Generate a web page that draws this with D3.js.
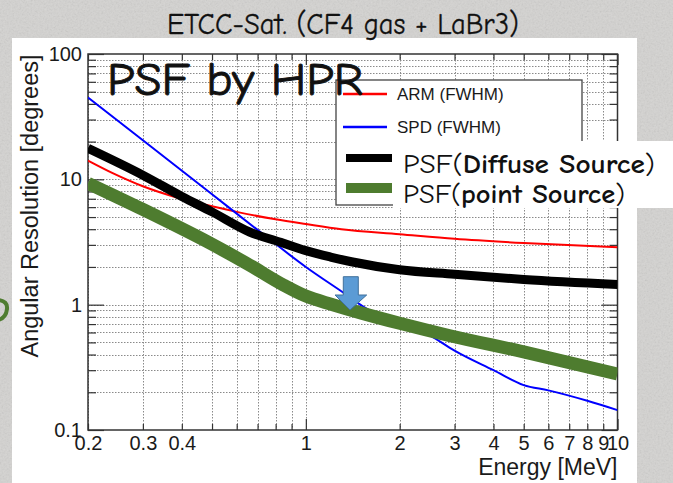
<!DOCTYPE html>
<html><head><meta charset="utf-8">
<script src="https://cdn.jsdelivr.net/npm/d3@7"></script>
<style>
html,body{margin:0;padding:0;background:#d4d3d1;}
svg{display:block;}
.num{font-family:"Liberation Sans",Arial,Helvetica,sans-serif;fill:#1a1a1a;}
.comic{font-family:"Comic Sans MS","Comic Neue","DejaVu Sans",sans-serif;fill:#111;}
</style></head>
<body>
<script>
// ---- data ----
const armEnergy = [0.2, 0.24, 0.3, 0.39, 0.5, 0.6, 0.8, 1.0, 1.3, 2, 3, 5, 10];
const armValues = [14.1, 11.2, 8.8, 7.1, 6.1, 5.5, 4.8, 4.4, 4.0, 3.65, 3.35, 3.1, 2.87];

const spdEnergy = [0.2, 0.3, 0.5, 0.7, 1.0, 1.3, 1.6, 2.0, 2.5, 3.0, 4.0, 5.0, 6.0, 8.0, 10];
const spdValues = [45, 20.5, 7.6, 3.95, 2.0, 1.28, 0.9, 0.73, 0.57, 0.43, 0.30, 0.228, 0.207, 0.171, 0.144];

const diffuseEnergy = [0.2, 0.3, 0.4, 0.5, 0.66, 0.83, 1.0, 1.2, 1.4, 2.0, 3.0, 5.0, 10];
const diffuseValues = [17.7, 10.8, 7.3, 5.5, 3.8, 3.15, 2.7, 2.4, 2.2, 1.9, 1.75, 1.59, 1.45];

const pointEnergy = [0.2, 0.3, 0.48, 0.66, 0.85, 1.0, 1.22, 1.5, 2.0, 2.9, 5.0, 10];
const pointValues = [9.3, 5.75, 3.2, 2.07, 1.43, 1.17, 1.0, 0.86, 0.71, 0.565, 0.42, 0.28];

const xMajorTicks = [1, 10];
const xMinorTicks = [0.2, 0.3, 0.4, 0.5, 0.6, 0.7, 0.8, 0.9, 2, 3, 4, 5, 6, 7, 8, 9];
const xTickLabels = ["0.2", "0.3", "0.4", "1", "2", "3", "4", "5", "6", "7", "8", "9", "10"];
const yMajorTicks = [0.1, 1, 10, 100];
const yTickLabels = ["0.1", "1", "10", "100"];

const titleText = "ETCC-Sat.  (CF4 gas + LaBr3)";
const overlayText = "PSF by HPR";
const xTitle = "Energy [MeV]";
const yTitle = "Angular Resolution [degrees]";
const legendSmall = [
  {label: "ARM (FWHM)", color: "#ff0000"},
  {label: "SPD (FWHM)", color: "#0000ff"}
];
const legendBig = [
  {pre: "PSF(", bold: "Diffuse Source", post: ")", color: "#000000", len: 252},
  {pre: "PSF(", bold: "point Source", post: ")", color: "#4e7c2f", len: 222}
];

// ---- drawing ----
const W = 673, H = 483;
const svg = d3.select("body").append("svg").attr("width", W).attr("height", H);

const defs = svg.append("defs");
const f = defs.append("filter").attr("id", "noise").attr("x", 0).attr("y", 0).attr("width", "100%").attr("height", "100%");
f.append("feTurbulence").attr("type", "fractalNoise").attr("baseFrequency", 0.55).attr("numOctaves", 2).attr("seed", 4);
f.append("feColorMatrix").attr("type", "saturate").attr("values", 0);
defs.append("clipPath").attr("id", "plotclip").append("rect")
  .attr("x", 88).attr("y", 54).attr("width", 529.5).attr("height", 376);

svg.append("rect").attr("width", W).attr("height", H).attr("fill", "#d4d3d1");
svg.append("rect").attr("width", W).attr("height", H).attr("filter", "url(#noise)").attr("opacity", 0.25);

// white panel
svg.append("rect").attr("x", 12).attr("y", 38).attr("width", 625).attr("height", 445).attr("fill", "#ffffff");

// title
svg.append("text").attr("class", "comic").attr("x", 167).attr("y", 34)
  .attr("font-size", 31).attr("textLength", 352).attr("lengthAdjust", "spacingAndGlyphs")
  .attr("stroke", "#111").attr("stroke-width", 0.3)
  .text(titleText);

const x = d3.scaleLog().domain([0.2, 10]).range([88, 617.5]);
const y = d3.scaleLog().domain([0.1, 100]).range([430, 54]);

// grid
const grid = svg.append("g").attr("stroke", "#8a8a8a").attr("stroke-width", 1).attr("stroke-dasharray", "1.5,1.5");
grid.selectAll(".gx").data(xMinorTicks.concat([1])).join("line")
  .attr("x1", d => Math.round(x(d)) + 0.5).attr("x2", d => Math.round(x(d)) + 0.5)
  .attr("y1", 54).attr("y2", 430);
const yAll = y.ticks();
grid.selectAll(".gy").data(yAll.filter(d => d > 0.1 && d < 100)).join("line")
  .attr("y1", d => Math.round(y(d)) + 0.5).attr("y2", d => Math.round(y(d)) + 0.5)
  .attr("x1", 88).attr("x2", 617.5);

// axes (ticks inward)
function styleAxis(g) {
  g.select(".domain").remove();
  g.selectAll(".tick line").attr("stroke", "#333").attr("stroke-width", 1.2);
  g.selectAll("text").attr("class", "num").attr("font-size", 20).attr("fill", "#1a1a1a");
}
const yMinor = yAll.filter(d => !yMajorTicks.includes(d));
svg.append("g").attr("transform", "translate(88,0)")
  .call(d3.axisLeft(y).tickValues(yMinor).tickSize(-8).tickFormat("")).call(styleAxis);
svg.append("g").attr("transform", "translate(88,0)")
  .call(d3.axisLeft(y).tickValues(yMajorTicks).tickSize(-16).tickPadding(6)
    .tickFormat((d, i) => yTickLabels[i])).call(styleAxis);
svg.append("g").attr("transform", "translate(617.5,0)")
  .call(d3.axisRight(y).tickValues(yMinor).tickSize(-8).tickFormat("")).call(styleAxis);
svg.append("g").attr("transform", "translate(617.5,0)")
  .call(d3.axisRight(y).tickValues(yMajorTicks).tickSize(-16).tickFormat("")).call(styleAxis);

const xLabelled = [0.2, 0.3, 0.4, 1, 2, 3, 4, 5, 6, 7, 8, 9, 10];
svg.append("g").attr("transform", "translate(0,430)")
  .call(d3.axisBottom(x).tickValues(xMinorTicks).tickSize(-6).tickFormat("")).call(styleAxis);
svg.append("g").attr("transform", "translate(0,430)")
  .call(d3.axisBottom(x).tickValues(xMajorTicks).tickSize(-11).tickFormat("")).call(styleAxis);
svg.append("g").attr("transform", "translate(0,430)")
  .call(d3.axisBottom(x).tickValues(xLabelled).tickSize(0).tickPadding(6)
    .tickFormat((d, i) => xTickLabels[i])).call(styleAxis);
svg.append("g").attr("transform", "translate(0,54)")
  .call(d3.axisTop(x).tickValues(xMinorTicks).tickSize(-6).tickFormat("")).call(styleAxis);
svg.append("g").attr("transform", "translate(0,54)")
  .call(d3.axisTop(x).tickValues(xMajorTicks).tickSize(-11).tickFormat("")).call(styleAxis);

// frame
svg.append("rect").attr("x", 88).attr("y", 54).attr("width", 529.5).attr("height", 376)
  .attr("fill", "none").attr("stroke", "#333").attr("stroke-width", 1.5);

// axis titles
svg.append("text").attr("class", "num").attr("font-size", 23).attr("text-anchor", "end")
  .attr("x", 617.5).attr("y", 475).text(xTitle);
svg.append("text").attr("class", "num").attr("font-size", 23.5).attr("text-anchor", "middle")
  .attr("transform", "translate(38,206) rotate(-90)").text(yTitle);

// curves
const line = d3.line().x(d => x(d[0])).y(d => y(d[1])).curve(d3.curveMonotoneX);
const curves = svg.append("g").attr("clip-path", "url(#plotclip)").attr("fill", "none");
const series = [
  {e: armEnergy, v: armValues, color: "#ff0000", w: 2},
  {e: spdEnergy, v: spdValues, color: "#0000ff", w: 2},
  {e: diffuseEnergy, v: diffuseValues, color: "#000000", w: 9},
  {e: pointEnergy, v: pointValues, color: "#4e7c2f", w: 13}
];
series.forEach(s => {
  curves.append("path").datum(s.e.map((e, i) => [e, s.v[i]]))
    .attr("d", line).attr("stroke", s.color).attr("stroke-width", s.w)
    .attr("stroke-linejoin", "round");
});

// legend (ROOT part)
svg.append("rect").attr("x", 336).attr("y", 80).attr("width", 246).attr("height", 125)
  .attr("fill", "#fff").attr("stroke", "#444").attr("stroke-width", 1.3);
legendSmall.forEach((d, i) => {
  const ly = 94 + i * 33;
  svg.append("line").attr("x1", 343).attr("x2", 387).attr("y1", ly).attr("y2", ly)
    .attr("stroke", d.color).attr("stroke-width", 2.5);
  svg.append("text").attr("class", "num").attr("font-size", 17).attr("x", 397).attr("y", ly + 6).text(d.label);
});
// pasted white box with thick entries
svg.append("rect").attr("x", 393).attr("y", 141).attr("width", 280).attr("height", 67).attr("fill", "#fff");
legendBig.forEach((d, i) => {
  const ly = 158 + i * 30;
  svg.append("line").attr("x1", 346).attr("x2", 392).attr("y1", ly).attr("y2", ly)
    .attr("stroke", d.color).attr("stroke-width", i === 0 ? 8 : 10);
  const t = svg.append("text").attr("class", "comic").attr("font-size", 27)
    .attr("x", 403).attr("y", ly + 15).attr("textLength", d.len).attr("lengthAdjust", "spacingAndGlyphs");
  t.append("tspan").text(d.pre);
  t.append("tspan").attr("font-weight", "bold").text(d.bold);
  t.append("tspan").text(d.post);
});

// overlay title inside plot
svg.append("text").attr("class", "comic").attr("font-size", 46).attr("x", 107).attr("y", 95)
  .attr("textLength", 256).attr("lengthAdjust", "spacingAndGlyphs")
  .attr("stroke", "#111").attr("stroke-width", 0.9).text(overlayText);

// blue arrow marker
svg.append("path")
  .attr("d", "M343.3,276.7 L358.3,276.7 L358.3,295 L366.7,295 L350,310 L335,295 L343.3,295 Z")
  .attr("fill", "#5b9bd5").attr("stroke", "#41719c").attr("stroke-width", 1);

// cut-off green glyph at the left edge
svg.append("path").attr("d", "M-2,300 Q8,301 7,309 Q6,318 -2,320")
  .attr("fill", "none").attr("stroke", "#4e7c2f").attr("stroke-width", 4);
</script>
</body></html>
